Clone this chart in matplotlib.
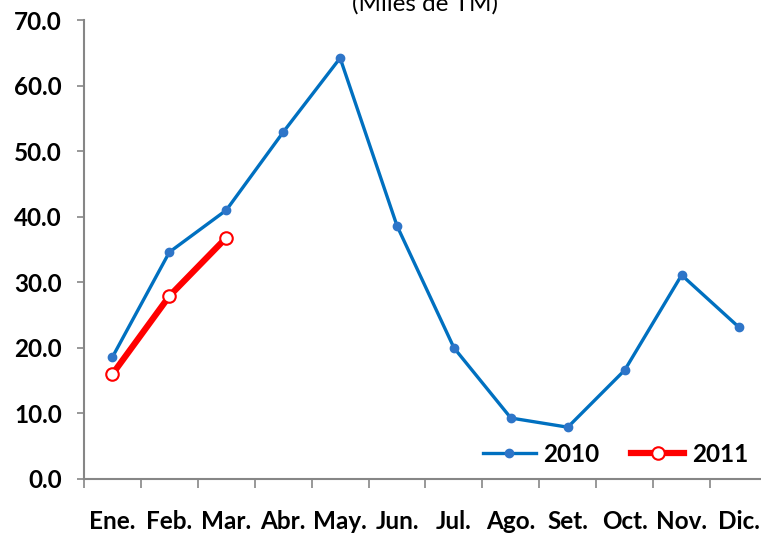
import matplotlib.pyplot as plt
import numpy as np

# Data
months = ['Ene.', 'Feb.', 'Mar.', 'Abr.', 'May.', 'Jun.', 'Jul.', 'Ago.', 'Set.', 'Oct.', 'Nov.', 'Dic.']
values_2010 = [18.6, 34.6, 41.0, 52.9, 64.2, 38.6, 20.0, 9.3, 7.9, 16.6, 31.1, 23.2]
values_2011 = [16.0, 27.9, 36.8]
yticks = [0, 10, 20, 30, 40, 50, 60, 70]

plt.rcParams['font.family'] = ['Lato', 'DejaVu Sans']
FS = 17.5

fig = plt.figure(figsize=(7.61, 5.36), dpi=100)
ax = fig.add_axes([84 / 761, 57 / 536, 683 / 761, 459 / 536])

x10 = np.arange(len(values_2010))
x11 = np.arange(len(values_2011))
ax.plot(x10, values_2010, color='#0070C0', lw=2.4, marker='o', ms=6,
        mfc='#2E75C8', mec='#2E75C8', label='2010', zorder=3)
ax.plot(x11, values_2011, color='#FF0000', lw=4.5, marker='o', ms=9,
        mfc='white', mec='#FF0000', mew=1.5, label='2011', zorder=4)

ax.set_xlim(-0.5, 11.5)
ax.set_ylim(0, 70)
ax.set_yticks(yticks)
ax.set_yticklabels([f'{v:.1f}' for v in yticks], fontsize=FS, fontweight='bold')

# ticks at category boundaries, labels at category centres
ax.set_xticks(np.arange(-0.5, 12, 1.0))
ax.set_xticklabels([])
ax.set_xticks(x10, minor=True)
ax.set_xticklabels(months, minor=True, fontsize=FS, fontweight='bold')
ax.tick_params(axis='x', which='major', length=6.5, width=1.2, color='#868686', direction='out')
ax.tick_params(axis='x', which='minor', length=0, pad=22)
ax.tick_params(axis='y', length=5, width=1.2, color='#868686', pad=11)

for s in ['top', 'right']:
    ax.spines[s].set_visible(False)
for s in ['left', 'bottom']:
    ax.spines[s].set_color('#868686')
    ax.spines[s].set_linewidth(1.5)

ax.legend(loc='center right', bbox_to_anchor=(0.99, 0.054), ncol=2, frameon=False,
          prop={'size': FS, 'weight': 'bold'}, handlelength=2.2, handletextpad=0.3,
          columnspacing=1.3, borderpad=0)

fig.text(425 / 761, 0.993, '(Miles de TM)', ha='center', va='center', fontsize=FS)

fig.savefig('out.png', dpi=100)
